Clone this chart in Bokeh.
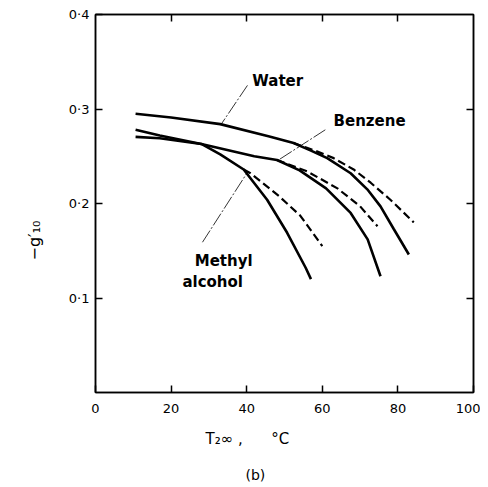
from bokeh.plotting import figure
from bokeh.models import LinearAxis, FixedTicker, Label, Range1d, Title
from bokeh.embed import file_html
from bokeh.resources import INLINE

# --- data ---
water_T = [10.6, 20, 33, 46, 52.4, 57, 61.3, 67.5, 71.9, 75.4, 78.9, 82.9]
water_g = [0.295, 0.291, 0.284, 0.271, 0.264, 0.256, 0.248, 0.232, 0.215, 0.197, 0.173, 0.146]
water_d_T = [52.4, 58, 63, 68.3, 72.8, 78, 84.2]
water_d_g = [0.264, 0.256, 0.248, 0.236, 0.222, 0.204, 0.180]

benz_T = [10.6, 17, 28, 42, 48, 54, 61, 67.5, 72, 75.4]
benz_g = [0.2705, 0.269, 0.263, 0.250, 0.246, 0.235, 0.216, 0.190, 0.162, 0.123]
benz_d_T = [48, 56, 64, 70, 74.6]
benz_d_g = [0.246, 0.234, 0.216, 0.197, 0.176]

meth_T = [10.6, 17, 28, 33, 39.2, 45.4, 50.7, 55.6, 57]
meth_g = [0.278, 0.272, 0.263, 0.252, 0.236, 0.204, 0.169, 0.132, 0.120]
meth_d_T = [39.2, 41, 48.5, 54.2, 60]
meth_d_g = [0.236, 0.232, 0.208, 0.187, 0.155]

x_ticks = [0, 20, 40, 60, 80, 100]
y_ticks = [0.1, 0.2, 0.3, 0.4]
y_tick_labels = ["0·1", "0·2", "0·3", "0·4"]

labels = [("Water", 48.2, 0.330), ("Benzene", 72.5, 0.287),
          ("Methyl", 33.9, 0.139), ("alcohol", 31.0, 0.117)]
leaders = [([40.2, 33.1], [0.325, 0.283]),
           ([60.8, 48.4], [0.278, 0.246]),
           ([28.3, 40.2], [0.159, 0.233])]

x_title = "T₂∞ ,\u00a0\u00a0\u00a0\u00a0\u00a0\u00a0°C"
y_title = "−g′₁₀"
sub_title = "(b)"

FONT = "DejaVu Sans"

p = figure(width=480, height=487, output_backend="svg", toolbar_location=None,
           x_range=Range1d(0, 100), y_range=Range1d(0, 0.4),
           min_border_left=95, min_border_right=7, min_border_top=14,
           min_border_bottom=93, x_axis_location=None, y_axis_location=None)
p.grid.visible = False
p.outline_line_color = "black"
p.outline_line_width = 1.5
p.background_fill_color = "white"
p.border_fill_color = "white"

def make_axis(ticks, show_labels, overrides=None):
    ax = LinearAxis(ticker=FixedTicker(ticks=ticks))
    ax.major_tick_in = 7
    ax.major_tick_out = 0
    ax.minor_tick_in = 0
    ax.minor_tick_out = 0
    ax.axis_line_color = "black"
    ax.axis_line_width = 1.5
    ax.major_tick_line_width = 1.5
    ax.major_tick_line_color = "black"
    if show_labels:
        ax.major_label_text_font = FONT
        ax.major_label_text_font_size = "13px"
        ax.major_label_text_color = "black"
        if overrides:
            ax.major_label_overrides = overrides
    else:
        ax.major_label_overrides = {t: "" for t in ticks}
        ax.major_label_standoff = 0
    return ax

bottom = make_axis(x_ticks, True)
bottom.major_label_standoff = 11
left = make_axis(y_ticks, True, {t: l for t, l in zip(y_ticks, y_tick_labels)})
left.major_label_standoff = 6
top = make_axis(x_ticks[1:-1], False)
right = make_axis(y_ticks[:-1], False)
p.add_layout(bottom, "below")
p.add_layout(left, "left")
p.add_layout(top, "above")
p.add_layout(right, "right")

# axis titles as Title panels
p.add_layout(Title(text=x_title, align="left", offset=110, standoff=24,
                   text_font=FONT, text_font_size="15px", text_font_style="normal",
                   text_color="black"), "below")
p.add_layout(Title(text=sub_title, align="left", offset=150, standoff=10,
                   text_font=FONT, text_font_size="14px", text_font_style="normal",
                   text_color="black"), "below")
p.add_layout(Title(text=y_title, align="left", offset=132, standoff=44,
                   text_font=FONT, text_font_size="16px", text_font_style="normal",
                   text_color="black"), "left")

# curves
for T, g in [(water_T, water_g), (benz_T, benz_g), (meth_T, meth_g)]:
    p.line(T, g, line_color="black", line_width=2.6)
for T, g in [(water_d_T, water_d_g), (benz_d_T, benz_d_g), (meth_d_T, meth_d_g)]:
    p.line(T, g, line_color="black", line_width=2.2, line_dash="8 4")

for xs, ys in leaders:
    p.line(xs, ys, line_color="black", line_width=0.8, line_dash="14 2 2 2")

for txt, x, y in labels:
    p.add_layout(Label(x=x, y=y, text=txt, text_font=FONT, text_font_size="15px",
                       text_font_style="bold", text_align="center", text_baseline="middle",
                       text_color="black"))

open("out.html", "w").write(file_html(p, INLINE))
